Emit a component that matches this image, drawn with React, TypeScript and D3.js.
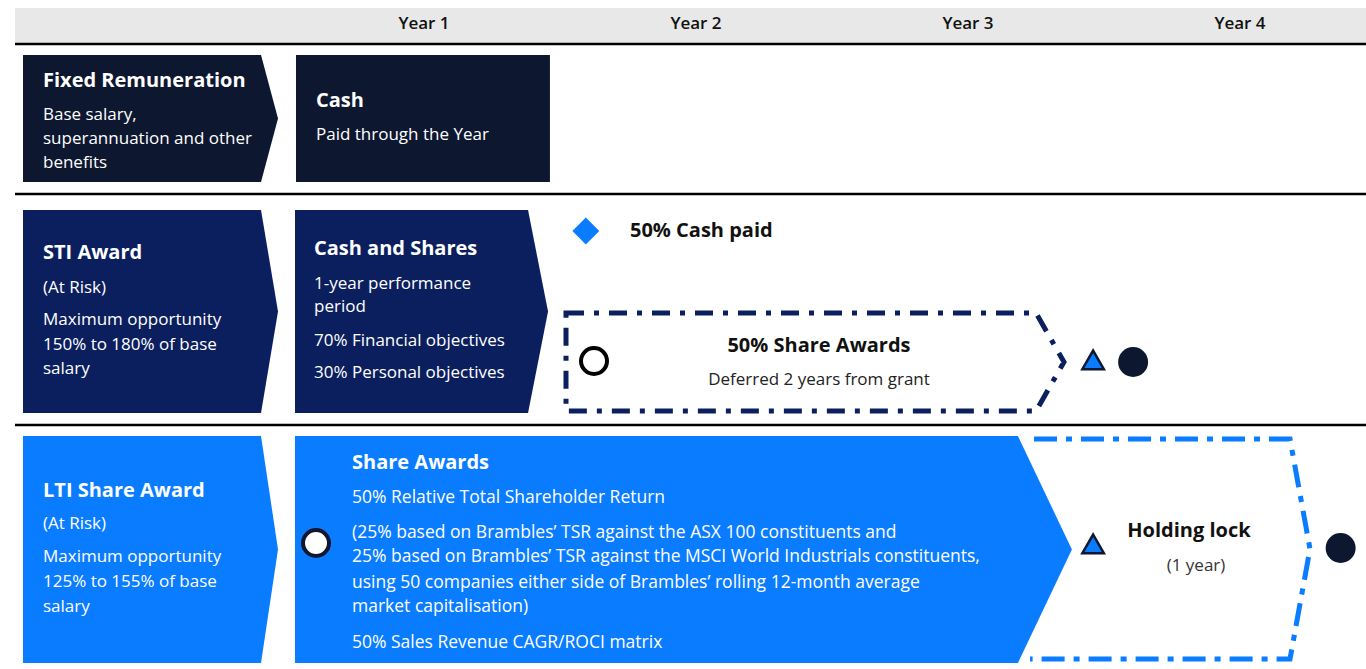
import React, { useRef, useEffect } from 'react';
import * as d3 from 'd3';

const years = ['Year 1', 'Year 2', 'Year 3', 'Year 4'];

// left hand "component" chevrons, one per row
const rowTitles = ['Fixed Remuneration', 'STI Award', 'LTI Share Award'];
const rowLines = [
  ['Base salary,', 'superannuation and other', 'benefits'],
  ['(At Risk)', 'Maximum opportunity', '150% to 180% of base', 'salary'],
  ['(At Risk)', 'Maximum opportunity', '125% to 155% of base', 'salary'],
];
const rowColors = ['#0d1730', '#0b1f5e', '#0a7cff'];

// year-1 vehicle boxes
const vehicleTitles = ['Cash', 'Cash and Shares', 'Share Awards'];
const vehicleLines = [
  ['Paid through the Year'],
  ['1-year performance', 'period', '70% Financial objectives', '30% Personal objectives'],
  [
    '50% Relative Total Shareholder Return',
    '',
    '(25% based on Brambles\u2019 TSR against the ASX 100 constituents and',
    '25% based on Brambles\u2019 TSR against the MSCI World Industrials constituents,',
    'using 50 companies either side of Brambles\u2019 rolling 12-month average',
    'market capitalisation)',
    '',
    '50% Sales Revenue CAGR/ROCI matrix',
  ],
];
// where each vehicle ends on the timeline (in years)
const vehicleEnd = [0.963, 0.956, 2.882];

// timeline markers, in years from the start of Year 1
const markerKind = ['diamond', 'open', 'triangle', 'dot', 'open', 'triangle', 'dot'];
const markerYear = [1.095, 1.125, 2.96, 3.107, 0.103, 2.96, 3.87];
const markerRow = [1, 1, 1, 1, 2, 2, 2];

const App: React.FC = () => {
  const svgRef = useRef<SVGSVGElement>(null);
  const width = 1366;
  const height = 669;

  useEffect(() => {
    if (!svgRef.current) return;
    const svg = d3.select(svgRef.current);
    svg.selectAll('*').remove();

    const font = '"Open Sans", "Noto Sans", sans-serif';
    const x = d3.scaleLinear().domain([0, 4]).range([288, 1376]);
    const band = d3.scaleBand().domain(years).range([288, 1376]);

    // row bands: top / bottom of the boxes
    const rowTop = [55, 210, 436];
    const rowBot = [182, 413, 663];

    const chevron = (x0: number, y0: number, x1: number, tip: number, y1: number) =>
      `M${x0},${y0}L${x1},${y0}L${tip},${(y0 + y1) / 2}L${x1},${y1}L${x0},${y1}Z`;

    // header
    svg.append('rect')
      .attr('x', 15).attr('y', 8).attr('width', width - 15).attr('height', 35)
      .attr('fill', '#e8e8e8');
    svg.selectAll('.year')
      .data(years)
      .enter()
      .append('text')
      .attr('x', d => band(d)! + band.bandwidth() / 2)
      .attr('y', 29)
      .attr('text-anchor', 'middle')
      .style('font-family', font)
      .style('font-size', '17px')
      .style('font-weight', 600)
      .attr('fill', '#111')
      .text(d => d);

    [44, 194, 425].forEach(y => {
      svg.append('line')
        .attr('x1', 15).attr('x2', width)
        .attr('y1', y).attr('y2', y)
        .attr('stroke', '#000').attr('stroke-width', 2.5);
    });

    // left chevrons
    rowTitles.forEach((title, i) => {
      svg.append('path')
        .attr('d', chevron(23, rowTop[i], 261, 278, rowBot[i]))
        .attr('fill', rowColors[i]);
    });

    // vehicle boxes
    vehicleTitles.forEach((title, i) => {
      const x0 = 295;
      const x1 = x(vehicleEnd[i]);
      if (i === 0) {
        svg.append('rect')
          .attr('x', 296).attr('y', rowTop[i])
          .attr('width', x1 - 296).attr('height', rowBot[i] - rowTop[i])
          .attr('fill', rowColors[i]);
      } else {
        const tipW = i === 1 ? 20 : 54;
        svg.append('path')
          .attr('d', chevron(x0, rowTop[i], x1 - tipW, x1, rowBot[i]))
          .attr('fill', rowColors[i]);
      }
    });

    // dashed deferral / holding lock shapes
    svg.append('path')
      .attr('d', chevron(566, 313, 1036, 1064, 411))
      .attr('fill', 'none')
      .attr('stroke', '#0b1f5e')
      .attr('stroke-width', 5)
      .attr('stroke-dasharray', '18 10 5 10');
    svg.append('path')
      .attr('d', 'M1034,439L1290,439L1310,549L1290,659L1030,659')
      .attr('fill', 'none')
      .attr('stroke', '#0a7cff')
      .attr('stroke-width', 5)
      .attr('stroke-dasharray', '23 9 6 9');

    const addText = (
      tx: number, ty: number, s: string, size: number, bold: boolean,
      color: string, anchor = 'start'
    ) => svg.append('text')
      .attr('x', tx).attr('y', ty)
      .attr('text-anchor', anchor)
      .style('font-family', font)
      .style('font-size', `${size}px`)
      .style('font-weight', bold ? 700 : 400)
      .attr('fill', color)
      .text(s);

    const body = 17.5;

    // left chevron text
    const leftTitleY = [87, 259, 497];
    const leftLineY = [
      [120, 144, 168],
      [293, 325, 350, 374],
      [529, 562, 587, 612],
    ];
    rowTitles.forEach((t, i) => {
      addText(43, leftTitleY[i], t, 20, true, '#fff');
      rowLines[i].forEach((l, j) => addText(43, leftLineY[i][j], l, 17, false, '#fff'));
    });

    // vehicle text
    const vTitleX = [316, 314, 352];
    const vTitleY = [107, 255, 469];
    const vLineY = [
      [140],
      [289, 312, 346, 378],
      [503, 0, 538, 562, 588, 612, 0, 648],
    ];
    vehicleTitles.forEach((t, i) => {
      addText(vTitleX[i], vTitleY[i], t, 20, true, '#fff');
      vehicleLines[i].forEach((l, j) => {
        if (l) addText(vTitleX[i], vLineY[i][j], l, i === 2 ? body : 17, false, '#fff');
      });
    });

    addText(630, 237, '50% Cash paid', 20, true, '#111');
    addText(819, 352, '50% Share Awards', 20, true, '#111', 'middle');
    addText(819, 385, 'Deferred 2 years from grant', 17, false, '#222', 'middle');
    addText(1189, 537, 'Holding lock', 20, true, '#111', 'middle');
    addText(1196, 571, '(1 year)', 17, false, '#333', 'middle');

    // markers
    const markerY = [231, 361, 361, 362, 543, 545, 548];
    markerKind.forEach((k, i) => {
      const mx = x(markerYear[i]);
      const my = markerY[i];
      if (k === 'diamond') {
        svg.append('path')
          .attr('d', d3.symbol(d3.symbolDiamond2, 460)())
          .attr('transform', `translate(${mx},${my})`)
          .attr('fill', '#0a7cff');
      } else if (k === 'open') {
        svg.append('circle')
          .attr('cx', mx).attr('cy', my).attr('r', 13)
          .attr('fill', '#fff')
          .attr('stroke', markerRow[i] === 2 ? '#0d1730' : '#000')
          .attr('stroke-width', 4);
      } else if (k === 'triangle') {
        svg.append('path')
          .attr('d', d3.symbol(d3.symbolTriangle, 200)())
          .attr('transform', `translate(${mx},${my + 2})`)
          .attr('fill', '#0a7cff')
          .attr('stroke', '#0d1730')
          .attr('stroke-width', 2.5);
      } else {
        svg.append('circle')
          .attr('cx', mx).attr('cy', my).attr('r', 15)
          .attr('fill', '#0d1730');
      }
    });
  }, []);

  return (
    <svg
      ref={svgRef}
      width={width}
      height={height}
      style={{ position: 'absolute', left: 0, top: 0, background: '#fff' }}
    />
  );
};

export default App;
